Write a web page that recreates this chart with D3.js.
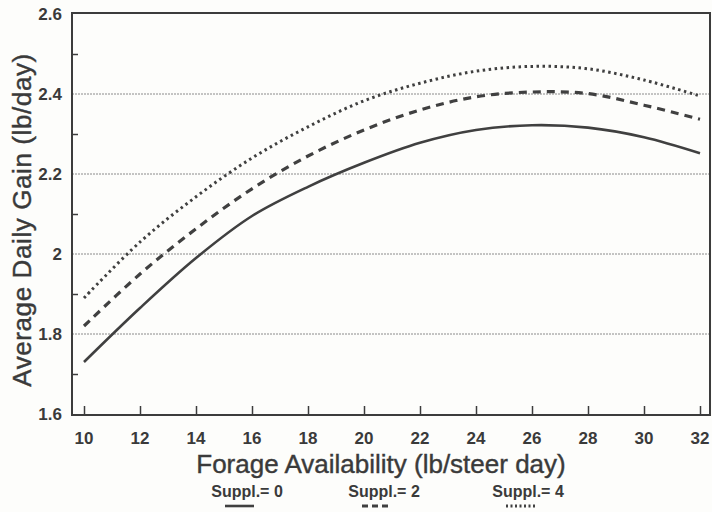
<!DOCTYPE html>
<html>
<head>
<meta charset="utf-8">
<script src="https://cdn.jsdelivr.net/npm/d3@7"></script>
<style>
  body { margin: 0; background: #fdfdfb; }
  text { font-family: "Liberation Sans", Arial, sans-serif; fill: #3a3a3a; }
</style>
</head>
<body>
<svg class="chart"></svg>
<script>
// forage availability (lb/steer day)
var forage = [10, 12, 14, 16, 18, 20, 22, 24, 26, 28, 30, 32];
// average daily gain for each supplement level
var suppl0 = [1.73, 1.865, 1.99, 2.095, 2.168, 2.228, 2.278, 2.31, 2.322, 2.316, 2.292, 2.252];
var suppl2 = [1.82, 1.95, 2.063, 2.163, 2.245, 2.31, 2.36, 2.393, 2.405, 2.401, 2.372, 2.337];
var suppl4 = [1.89, 2.03, 2.143, 2.24, 2.318, 2.383, 2.427, 2.457, 2.469, 2.463, 2.435, 2.395];
var seriesNames = ['Suppl.= 0', 'Suppl.= 2', 'Suppl.= 4'];
var yMajor = [1.6, 1.8, 2.0, 2.2, 2.4, 2.6];
var yMinor = [1.7, 1.9, 2.1, 2.3, 2.5];

var width = 712, height = 512;
var frame = {left: 72, right: 710, top: 13, bottom: 415};

var svg = d3.select('.chart')
  .attr('width', width)
  .attr('height', height);

var x = d3.scaleLinear().domain([10, 32]).range([84, 700]);
var y = d3.scaleLinear().domain([1.6, 2.6]).range([414, 14]);

var ink = '#3c3c3c';

// gridlines at the major y values
svg.selectAll('.grid')
  .data(yMajor.slice(1, -1))
  .enter().append('line')
  .attr('x1', frame.left).attr('x2', frame.right)
  .attr('y1', function(d) { return y(d); })
  .attr('y2', function(d) { return y(d); })
  .attr('stroke', '#8a8a8a')
  .attr('stroke-width', 1)
  .attr('stroke-dasharray', '2,1');

// frame
svg.append('rect')
  .attr('x', frame.left).attr('y', frame.top)
  .attr('width', frame.right - frame.left)
  .attr('height', frame.bottom - frame.top)
  .attr('fill', 'none')
  .attr('stroke', ink)
  .attr('stroke-width', 2);

// x axis: ticks point into the plot
var xAxis = d3.axisTop(x)
  .tickValues(forage)
  .tickSize(9)
  .tickFormat('');
svg.append('g')
  .attr('transform', 'translate(0,' + frame.bottom + ')')
  .call(xAxis)
  .call(function(g) {
    g.select('.domain').remove();
    g.selectAll('line').attr('stroke', ink).attr('stroke-width', 1.5);
  });

svg.selectAll('.xlab')
  .data(forage)
  .enter().append('text')
  .attr('x', function(d) { return x(d); })
  .attr('y', 444)
  .attr('text-anchor', 'middle')
  .style('font-size', '17px')
  .style('font-weight', 'bold')
  .text(function(d) { return d; });

// y axis minor ticks
var yAxis = d3.axisRight(y)
  .tickValues(yMinor)
  .tickSize(6)
  .tickFormat('');
svg.append('g')
  .attr('transform', 'translate(' + frame.left + ',0)')
  .call(yAxis)
  .call(function(g) {
    g.select('.domain').remove();
    g.selectAll('line').attr('stroke', ink).attr('stroke-width', 1.5);
  });

svg.selectAll('.ylab')
  .data(yMajor)
  .enter().append('text')
  .attr('x', 62)
  .attr('y', function(d) { return y(d) + 6; })
  .attr('text-anchor', 'end')
  .style('font-size', '17px')
  .style('font-weight', 'bold')
  .text(function(d) { return d === 2 ? '2' : d3.format('.1f')(d); });

// axis titles
svg.append('text')
  .attr('transform', 'translate(31,220) rotate(-90)')
  .attr('text-anchor', 'middle')
  .style('font-size', '26px')
  .style('letter-spacing', '0.6px')
  .style('stroke', '#3a3a3a')
  .style('stroke-width', '0.4px')
  .text('Average Daily Gain (lb/day)');

svg.append('text')
  .attr('x', 381)
  .attr('y', 473)
  .attr('text-anchor', 'middle')
  .style('font-size', '26px')
  .style('stroke', '#3a3a3a')
  .style('stroke-width', '0.4px')
  .text('Forage Availability (lb/steer day)');

// curves
var styles = [
  {dash: null, w: 2.6},
  {dash: '8,6', w: 3.2},
  {dash: '2.5,3.5', w: 3}
];
var allSeries = [suppl0, suppl2, suppl4];

var line = d3.line()
  .x(function(d, i) { return x(forage[i]); })
  .y(function(d) { return y(d); })
  .curve(d3.curveCatmullRom);

svg.selectAll('.curve')
  .data(allSeries)
  .enter().append('path')
  .attr('d', line)
  .attr('fill', 'none')
  .attr('stroke', '#404040')
  .attr('stroke-width', function(d, i) { return styles[i].w; })
  .attr('stroke-dasharray', function(d, i) { return styles[i].dash; });

// legend
var legendX = [247, 384, 528];
var legend = svg.selectAll('.legend')
  .data(seriesNames)
  .enter().append('g')
  .attr('transform', function(d, i) { return 'translate(' + legendX[i] + ',497)'; });

legend.append('text')
  .attr('text-anchor', 'middle')
  .style('font-size', '16px')
  .style('font-weight', 'bold')
  .text(function(d) { return d; });

legend.append('line')
  .attr('x1', -22).attr('x2', 7)
  .attr('y1', 9).attr('y2', 9)
  .attr('stroke', '#404040')
  .attr('stroke-width', function(d, i) { return styles[i].w; })
  .attr('stroke-dasharray', function(d, i) { return i === 1 ? '6,4' : styles[i].dash ? '2,2.5' : null; });
</script>
</body>
</html>
